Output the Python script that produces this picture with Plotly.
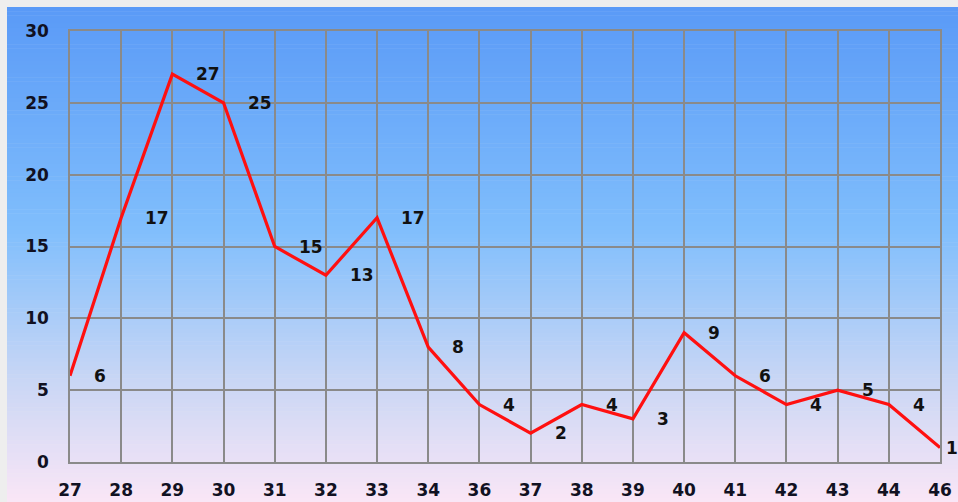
import plotly.graph_objects as go

categories = ["27", "28", "29", "30", "31", "32", "33", "34", "36", "37",
              "38", "39", "40", "41", "42", "43", "44", "46"]
values = [6, 17, 27, 25, 15, 13, 17, 8, 4, 2, 4, 3, 9, 6, 4, 5, 4, 1]
y_ticks = [0, 5, 10, 15, 20, 25, 30]

W, H = 958, 502
L, R, T, B = 70, 18, 31, 40
pw, ph = W - L - R, H - T - B

def px2paper_x(px):
    return (px - L) / pw

def px2paper_y(py):
    return (H - B - py) / ph

stops = [(0.0, (90, 154, 247)), (0.45, (128, 190, 252)),
         (0.75, (200, 214, 245)), (1.0, (250, 230, 246))]

def grad(t):
    for (t0, c0), (t1, c1) in zip(stops[:-1], stops[1:]):
        if t <= t1:
            f = (t - t0) / (t1 - t0) if t1 > t0 else 0
            return tuple(round(a + (b - a) * f) for a, b in zip(c0, c1))
    return stops[-1][1]

shapes = []
top_px, bot_px = 7, H
n = 120
for i in range(n):
    y0 = top_px + (bot_px - top_px) * i / n
    y1 = top_px + (bot_px - top_px) * (i + 1) / n + 0.6
    c = grad((i + 0.5) / n)
    shapes.append(dict(type="rect", xref="paper", yref="paper", layer="below",
                       x0=px2paper_x(7), x1=px2paper_x(W + 2),
                       y0=px2paper_y(y1), y1=px2paper_y(y0),
                       line=dict(width=0), fillcolor="rgb(%d,%d,%d)" % c))

fig = go.Figure()
fig.add_trace(go.Scatter(x=categories, y=values, mode="lines",
                         line=dict(color="#ff1010", width=3.2),
                         cliponaxis=False, hoverinfo="skip"))

FS = 17
# category axes take annotation positions as category indices
annotations = []
for i, v in enumerate(values):
    last = i == len(values) - 1
    annotations.append(dict(x=i, y=v, xref="x", yref="y", text=str(v), showarrow=False,
                            xanchor="left", yanchor="middle", xshift=4 if last else 22,
                            font=dict(family="DejaVu Sans", size=FS, color="#111111",
                                      weight="bold")))

grid = "#8a8a8a"
tickfont = dict(family="DejaVu Sans", size=FS, color="#111122", weight="bold")
fig.update_layout(
    width=W, height=H,
    margin=dict(l=L, r=R, t=T, b=B, pad=0, autoexpand=False),
    paper_bgcolor="#eeeeee",
    plot_bgcolor="rgba(0,0,0,0)",
    showlegend=False,
    shapes=shapes,
    annotations=annotations,
    font=dict(family="DejaVu Sans", size=FS, color="#111122"),
    xaxis=dict(type="category", range=[0, 17], showgrid=True, gridcolor=grid,
               gridwidth=1.5, showline=True, linecolor=grid, linewidth=1.5,
               mirror=True, ticks="outside", ticklen=12, tickcolor="rgba(0,0,0,0)",
               automargin=False, tickfont=tickfont, fixedrange=True),
    yaxis=dict(range=[0, 30], tickvals=y_ticks, showgrid=True, gridcolor=grid,
               gridwidth=1.5, showline=True, linecolor=grid, linewidth=1.5,
               mirror=True, zeroline=False, ticks="outside", ticklen=16,
               tickcolor="rgba(0,0,0,0)", automargin=False,
               tickfont=tickfont, fixedrange=True),
)

fig.write_html("out.html", config={"displayModeBar": False})
with open("out.html", encoding="utf-8") as f:
    html = f.read()
html = html.replace("<head>", "<head><style>html,body{margin:0;padding:0;overflow:hidden;}</style>", 1)
with open("out.html", "w", encoding="utf-8") as f:
    f.write(html)
